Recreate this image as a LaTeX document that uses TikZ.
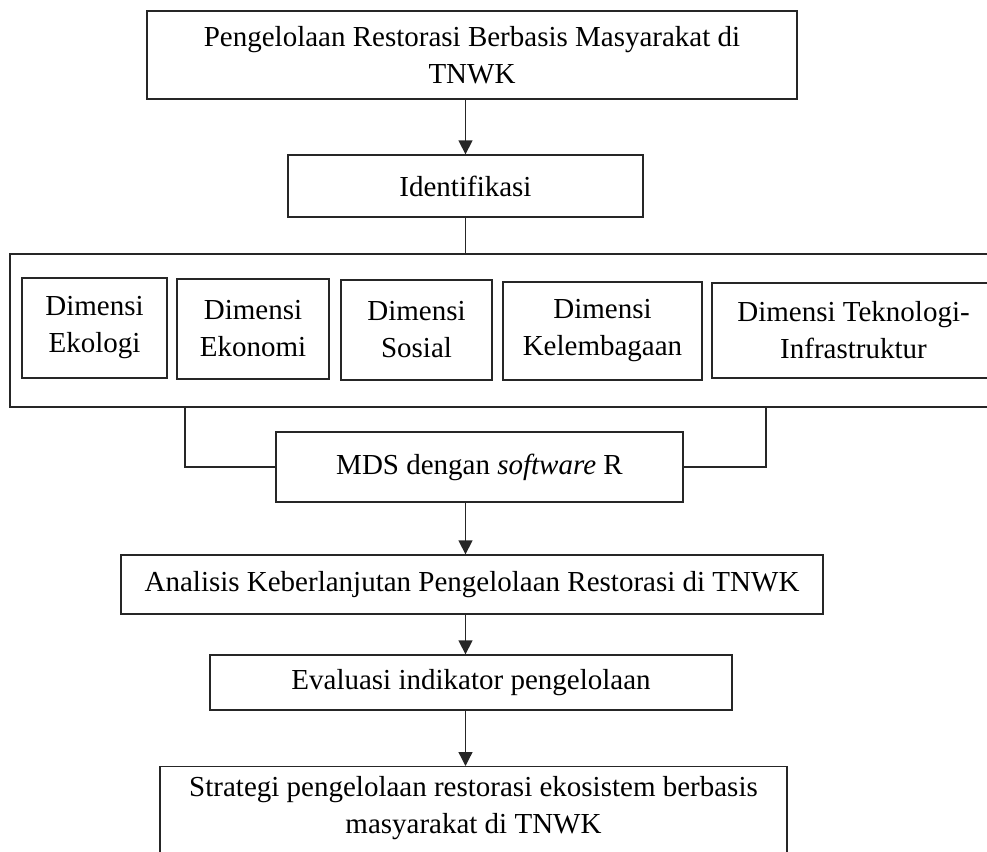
\documentclass[tikz,border=0pt]{standalone}
\usepackage{fontspec}
\setmainfont{Liberation Serif}
\usetikzlibrary{arrows.meta,positioning}

\begin{document}
\begin{tikzpicture}[x=0.5pt, y=-0.5pt,
    flowbox/.style={rectangle, draw=black!85, line width=0.65pt, align=center,
                    inner sep=0pt},
    dimbox/.style={flowbox, minimum height=50pt},
    arr/.style={-{Triangle[length=7pt, width=7pt]}, line width=0.65pt, black!85},
    link/.style={line width=0.65pt, black!85},
    font=\fontsize{14.5}{18.5}\selectfont
  ]
    \useasboundingbox (0,0) rectangle (987,852);
    \clip (0,0) rectangle (987,852);

    \node[flowbox, minimum width=325pt, minimum height=44pt] (top) at (472,55) {Pengelolaan Restorasi Berbasis Masyarakat di\\TNWK};
    \node[flowbox, minimum width=177.5pt, minimum height=31pt] (iden) at (465.5,186) {Identifikasi};

    \node[flowbox, minimum width=495pt, minimum height=76.5pt] (cont) at (505,330.5) {};
    \node[dimbox, minimum width=72.5pt]  (eko) at (94.5,328)  {Dimensi\\Ekologi};
    \node[dimbox, minimum width=76pt]    (ekn) at (253,329)   {Dimensi\\Ekonomi};
    \node[dimbox, minimum width=75.5pt]  (sos) at (416.5,330) {Dimensi\\Sosial};
    \node[dimbox, minimum width=99.5pt, minimum height=49pt] (kel) at (602.5,331) {Dimensi\\Kelembagaan};
    \node[dimbox, minimum width=141.5pt, minimum height=47.5pt] (tek) at (853.5,330.5) {Dimensi Teknologi-\\Infrastruktur};

    \node[flowbox, minimum width=203.5pt, minimum height=35pt] (mds) at (479.5,467) {MDS dengan \textit{software} R};
    \node[flowbox, minimum width=351pt, minimum height=29.5pt] (anal) at (472,584.5) {Analisis Keberlanjutan Pengelolaan Restorasi di TNWK};
    \node[flowbox, minimum width=261pt, minimum height=27.5pt] (eval) at (471,682.5) {Evaluasi indikator pengelolaan};
    \node[flowbox, anchor=north, minimum width=313.5pt, inner ysep=5pt, text depth=40pt] (strat) at (473.5,766) {Strategi pengelolaan restorasi ekosistem berbasis\\masyarakat di TNWK};

    \coordinate (jl) at (185,407);
    \coordinate (jr) at (766,407);

    \draw[arr] (top.south -| iden.north) -- (iden.north);
    \draw[link] (iden.south) -- (iden.south |- cont.north);
    \draw[link] (jl) |- (mds.west);
    \draw[link] (jr) |- (mds.east);
    \draw[arr] (mds.south -| iden.south) -- (anal.north -| iden.south);
    \draw[arr] (anal.south -| iden.south) -- (eval.north -| iden.south);
    \draw[arr] (eval.south -| iden.south) -- (strat.north -| iden.south);
\end{tikzpicture}
\end{document}
